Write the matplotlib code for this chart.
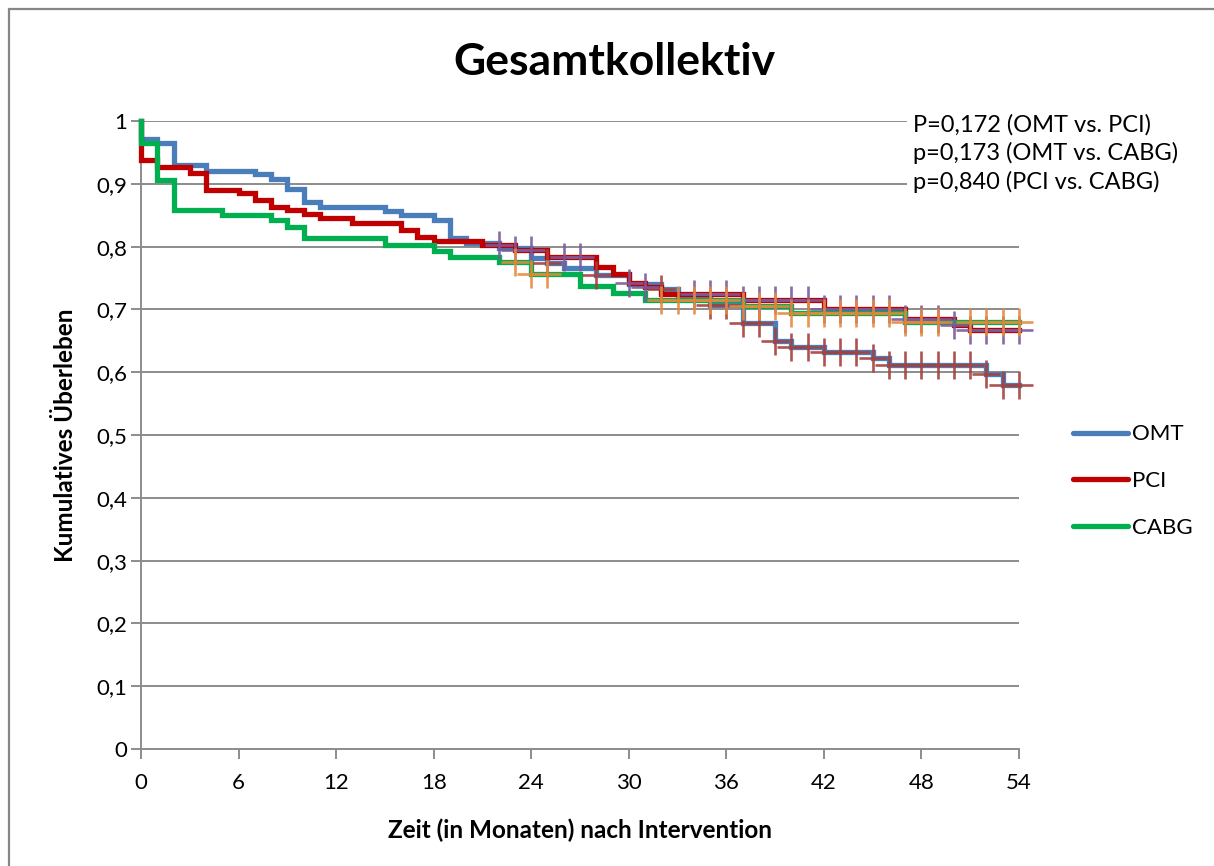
import matplotlib
matplotlib.use('Agg')
import matplotlib.pyplot as plt
import numpy as np
from matplotlib.patches import Rectangle
from matplotlib.lines import Line2D

plt.rcParams['font.family'] = ['Lato', 'DejaVu Sans']

# Kaplan-Meier step data (months, cumulative survival)
omt_t = [0, 0, 1, 2, 4, 7, 8, 9, 10, 11, 15, 16, 18, 19, 20, 22, 24, 25, 26, 28,
         30, 32, 33, 35, 37, 39, 40, 42, 45, 46, 52, 53, 54]
omt_s = [1.0, 0.971, 0.965, 0.930, 0.921, 0.915, 0.907, 0.892, 0.871, 0.863, 0.857,
         0.850, 0.842, 0.814, 0.806, 0.798, 0.782, 0.774, 0.766, 0.755, 0.740, 0.733,
         0.722, 0.707, 0.678, 0.649, 0.640, 0.632, 0.622, 0.611, 0.597, 0.580, 0.580]

pci_t = [0, 0, 1, 3, 4, 6, 7, 8, 9, 10, 11, 13, 16, 17, 18, 21, 23, 25, 28, 29,
         30, 31, 32, 37, 42, 47, 50, 51, 54]
pci_s = [1.0, 0.938, 0.927, 0.917, 0.890, 0.885, 0.874, 0.863, 0.858, 0.852, 0.845,
         0.837, 0.826, 0.815, 0.809, 0.802, 0.795, 0.783, 0.767, 0.757, 0.742, 0.735,
         0.725, 0.715, 0.700, 0.684, 0.675, 0.667, 0.667]

cabg_t = [0, 0, 1, 2, 5, 8, 9, 10, 15, 18, 19, 22, 24, 27, 29, 31, 37, 40, 47, 54]
cabg_s = [1.0, 0.965, 0.906, 0.858, 0.850, 0.842, 0.831, 0.813, 0.802, 0.793, 0.784,
          0.775, 0.756, 0.737, 0.726, 0.715, 0.705, 0.694, 0.680, 0.680]

# censored observations (months)
omt_cens = [25, 28, 32] + list(range(35, 55))
pci_cens = [22, 23, 24, 26, 27, 30, 31] + list(range(34, 55))
cabg_cens = [23, 24, 25] + list(range(32, 50)) + [51, 52, 53, 54]

groups = ['OMT', 'PCI', 'CABG']
p_text = 'P=0,172 (OMT vs. PCI)\np=0,173 (OMT vs. CABG)\np=0,840 (PCI vs. CABG)'

x_ticks = list(range(0, 55, 6))
y_ticks = [i / 10 for i in range(11)]


def surv_at(times, surv, t):
    idx = np.searchsorted(times, t, side='right') - 1
    return np.asarray(surv)[idx]


W, H = 1214, 866
fig = plt.figure(figsize=(W / 100, H / 100), dpi=100)
ax = fig.add_axes([141 / W, 1 - 749 / H, (1019 - 141) / W, (749 - 121) / H])

grid_c = '#8c8c8c'
for y in y_ticks[1:]:
    ax.axhline(y, color=grid_c, lw=1.4, zorder=1)

main_colors = ['#4a7ebb', '#c00000', '#00b050']
cens_colors = ['#a5403d', '#7b5c9e', '#e8883a']
data = [(omt_t, omt_s, omt_cens), (pci_t, pci_s, pci_cens), (cabg_t, cabg_s, cabg_cens)]

for (t, s, _), c in zip(data, main_colors):
    ax.plot(t, s, drawstyle='steps-post', color=c, lw=3.8, solid_joinstyle='miter',
            zorder=3, clip_on=False)

for (t, s, cens), c in zip(data, cens_colors):
    ct = np.array(cens, dtype=float)
    cs = surv_at(np.array(t, dtype=float), s, ct)
    ax.plot(ct, cs, ls='none', marker='+', ms=20, mew=1.9, color=c, alpha=0.9,
            zorder=4, clip_on=False)

ax.set_xlim(0, 54)
ax.set_ylim(0, 1)
ax.set_xticks(x_ticks)
ax.set_yticks(y_ticks)
ax.set_yticklabels(['0' if v == 0 else ('1' if v == 1 else f'{v:.1f}'.replace('.', ','))
                    for v in y_ticks])
for side in ['top', 'right']:
    ax.spines[side].set_visible(False)
for side in ['left', 'bottom']:
    ax.spines[side].set_color(grid_c)
    ax.spines[side].set_linewidth(1.4)
ax.tick_params(axis='both', direction='out', length=7, width=1.4, color=grid_c,
               labelsize=16, pad=3)
ax.tick_params(axis='x', pad=10)

ax.set_xlabel('Zeit (in Monaten) nach Intervention', fontsize=17.5, fontweight='bold',
              labelpad=19)
ax.set_ylabel('Kumulatives Überleben', fontsize=17.5, fontweight='bold', labelpad=14)
fig.text(614 / W, 1 - 62 / H, 'Gesamtkollektiv', fontsize=32, fontweight='bold',
         ha='center', va='center')

fig.text(913 / W, 1 - 114 / H, p_text, fontsize=17, ha='left', va='top',
         linespacing=1.36, bbox=dict(facecolor='white', edgecolor='none', pad=4),
         zorder=10)

handles = [Line2D([0], [0], color=c, lw=3.8, solid_capstyle='round') for c in main_colors]
fig.legend(handles, groups, loc='center left', bbox_to_anchor=(1062 / W, 1 - 481 / H),
           frameon=False, fontsize=16, handlelength=2.45, handletextpad=0.2,
           labelspacing=1.2, borderpad=0)

fig.patches.append(Rectangle((9 / W, -0.1), 1.2, 1.1 - 9 / H, transform=fig.transFigure,
                             fill=False, edgecolor='#868686', lw=1.6))

fig.savefig('out.png', dpi=100, facecolor='white')
